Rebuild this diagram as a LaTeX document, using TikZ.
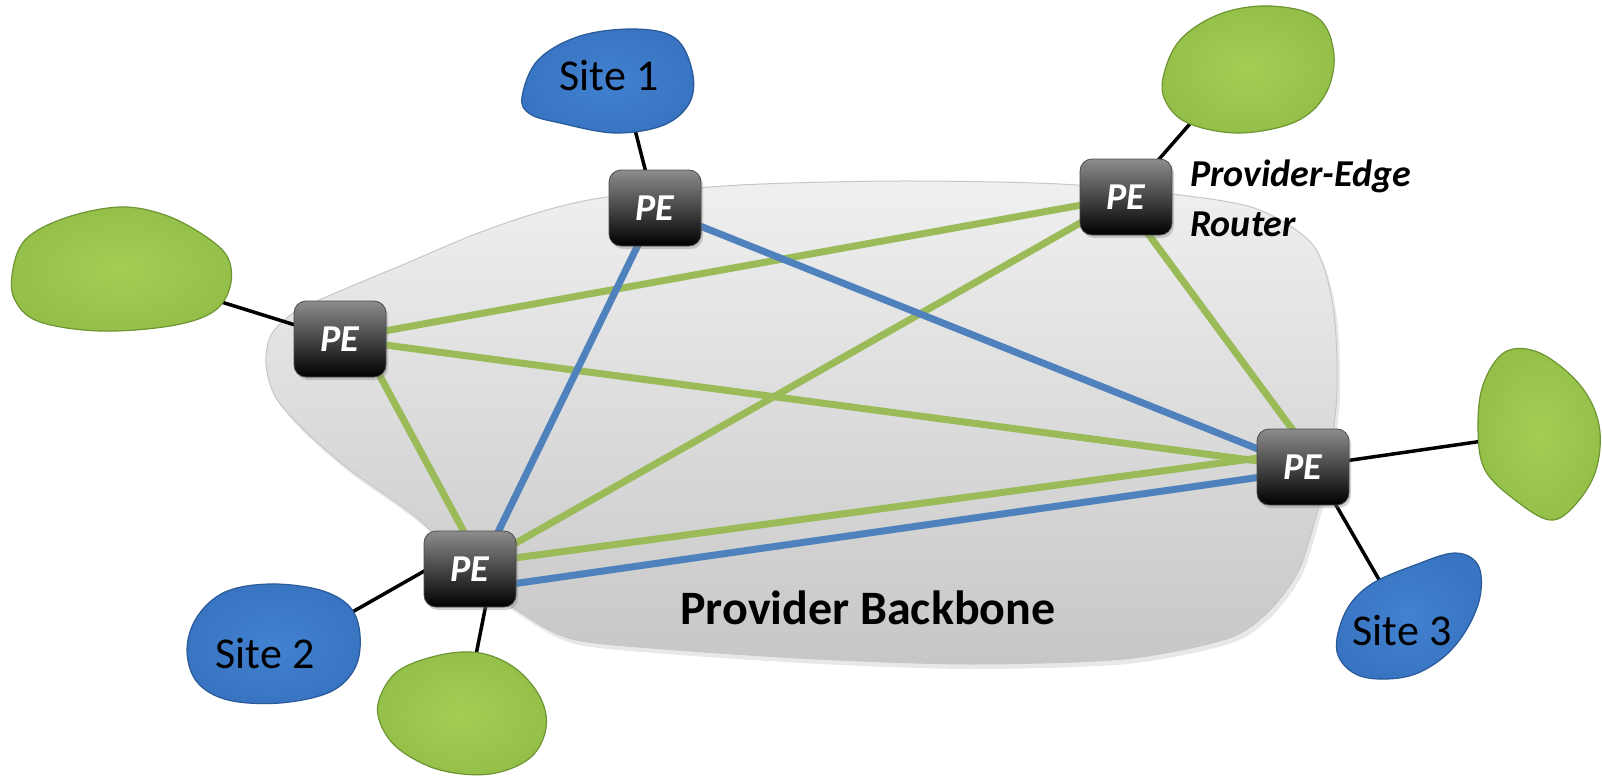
\documentclass[tikz,border=0pt]{standalone}
\usepackage{fontspec}
\setmainfont{Carlito}
\usetikzlibrary{shadows}

\definecolor{linkgreen}{HTML}{9BBB59}
\definecolor{linkblue}{HTML}{4F81BD}
\definecolor{gin}{HTML}{A2CE56}
\definecolor{gout}{HTML}{94C049}
\definecolor{gedge}{HTML}{6E9433}
\definecolor{bin}{HTML}{4282D0}
\definecolor{bout}{HTML}{3874C2}
\definecolor{bedge}{HTML}{2A5A98}

\pgfdeclarelayer{bg}
\pgfdeclarelayer{links}
\pgfsetlayers{bg,links,main}

\tikzset{
  router/.style={rounded corners=12pt, minimum width=92pt, minimum height=76pt,
    inner sep=0pt, top color=black!45, middle color=black!92, bottom color=black,
    draw=black!70, line width=0.8pt, text=white,
    font=\fontsize{38}{38}\selectfont\bfseries\itshape,
    drop shadow={opacity=0.35, shadow xshift=2pt, shadow yshift=-3pt}},
  greenblob/.style={inner color=gin, outer color=gout, draw=gedge, line width=1.2pt},
  blueblob/.style={inner color=bin, outer color=bout, draw=bedge, line width=1.2pt},
  sitelabel/.style={anchor=base, inner sep=0pt, font=\fontsize{44}{44}\selectfont},
  greenlink/.style={draw=linkgreen, line width=7pt},
  bluelink/.style={draw=linkblue, line width=7pt},
  access/.style={draw=black, line width=3.5pt},
  backbone/.style={top color=black!6, bottom color=black!22, draw=black!22, line width=1pt,
    drop shadow={opacity=0.18, shadow xshift=3pt, shadow yshift=-5pt}}
}

\begin{document}
\begin{tikzpicture}[x=1pt,y=-1pt]
\useasboundingbox (0,0) rectangle (1602,776);

% provider backbone cloud
\begin{pgfonlayer}{bg}
\path[backbone] plot[smooth cycle, tension=0.5] coordinates {
  (266,365) (271,335) (295,312) (340,291) (407,263) (473,235) (540,212) (607,197)
  (740,185) (900,181) (1060,184) (1180,195) (1257,209) (1313,245) (1333,306)
  (1337,390) (1328,470) (1315,520) (1298,572) (1267,613) (1226,639) (1124,659)
  (971,664) (817,659) (664,649) (572,639) (521,613) (470,575) (427,527)
  (397,503) (350,470) (307,433) (276,398)};
\end{pgfonlayer}

% customer sites
\path[blueblob] plot[smooth cycle, tension=0.6] coordinates {
  (522,97) (538,60) (580,36) (635,29) (675,38) (692,70) (690,102)
  (664,125) (615,133) (560,123) (530,114)};
\path[greenblob] plot[smooth cycle, tension=0.6] coordinates {
  (1163,78) (1180,40) (1220,14) (1270,6) (1318,18) (1334,55)
  (1325,95) (1295,122) (1240,133) (1190,124) (1167,104)};
\path[greenblob] plot[smooth cycle, tension=0.6] coordinates {
  (12,275) (25,240) (65,218) (120,207) (165,215) (205,236) (228,258)
  (230,287) (213,312) (170,326) (100,331) (40,322) (16,302)};
\path[greenblob] plot[smooth cycle, tension=0.6] coordinates {
  (1478,430) (1483,385) (1505,352) (1540,353) (1580,385)
  (1599,425) (1596,470) (1575,505) (1550,520) (1515,500) (1485,470)};
\path[blueblob] plot[smooth cycle, tension=0.6] coordinates {
  (187,650) (197,617) (225,592) (270,584) (320,590) (350,607) (360,635)
  (355,668) (330,692) (280,703) (228,700) (197,682)};
\path[greenblob] plot[smooth cycle, tension=0.6] coordinates {
  (379,700) (398,671) (440,655) (480,653) (515,668) (540,697) (546,728)
  (530,758) (490,774) (440,770) (400,750) (381,725)};
\path[blueblob] plot[smooth cycle, tension=0.6] coordinates {
  (1337,652) (1345,613) (1370,585) (1415,565) (1455,553) (1478,565)
  (1480,597) (1465,632) (1440,660) (1405,677) (1360,676)};

\node[sitelabel] (site1) at (609,90) {Site 1};
\node[sitelabel] (site2) at (265,668) {Site 2};
\node[sitelabel] (site3) at (1402,645) {Site 3};

% attachment points on the sites
\coordinate (s1port) at (632,118);
\coordinate (gTRport) at (1195,118);
\coordinate (gLport) at (215,300);
\coordinate (gRport) at (1490,440);
\coordinate (s3port) at (1385,590);
\coordinate (s2port) at (340,619);
\coordinate (gBport) at (474,665);

% provider-edge routers
\node[router] (peA) at (655,208) {PE};
\node[router] (peB) at (1126,197) {PE};
\node[router] (peC) at (340,339) {PE};
\node[router] (peD) at (1303,467) {PE};
\node[router] (peE) at (470,569) {PE};

\begin{pgfonlayer}{links}
  % green mesh
  \draw[greenlink] (peC.center) -- (peB.center);
  \draw[greenlink] (peC.center) -- (peD.center);
  \draw[greenlink] ([xshift=20pt]peC.center) -- ([xshift=14pt]peE.center);
  \draw[greenlink] (peE.center) -- (peB.center);
  \draw[greenlink] ([xshift=-5pt]peB.center) -- ([xshift=17pt]peD.center);
  \draw[greenlink] ([yshift=5pt]peE.center) -- ([yshift=15pt]peD.center);
  % blue mesh
  \draw[bluelink] ([xshift=1pt]peA.center) -- ([xshift=10pt]peE.center);
  \draw[bluelink] (peA.center) -- (peD.center);
  \draw[bluelink] ([yshift=-21pt]peE.center) -- ([yshift=-4pt]peD.center);
  % access links
  \draw[access] (s1port) -- (peA.center);
  \draw[access] (gTRport) -- (peB.center);
  \draw[access] (gLport) -- (peC.center);
  \draw[access] (gRport) -- (peD.center);
  \draw[access] (s3port) -- ([xshift=11pt]peD.center);
  \draw[access] (s2port) -- ([yshift=24pt]peE.center);
  \draw[access] (gBport) -- ([xshift=23pt]peE.center);
\end{pgfonlayer}

\node[anchor=base, inner sep=0pt, font=\fontsize{48}{48}\selectfont\bfseries] (bblabel) at (868,624) {Provider Backbone};
\node[anchor=north west, align=left, inner sep=0pt, font=\fontsize{38}{50}\selectfont\bfseries\itshape] (pelabel) at (1190,160) {Provider-Edge\\Router};
\end{tikzpicture}
\end{document}
